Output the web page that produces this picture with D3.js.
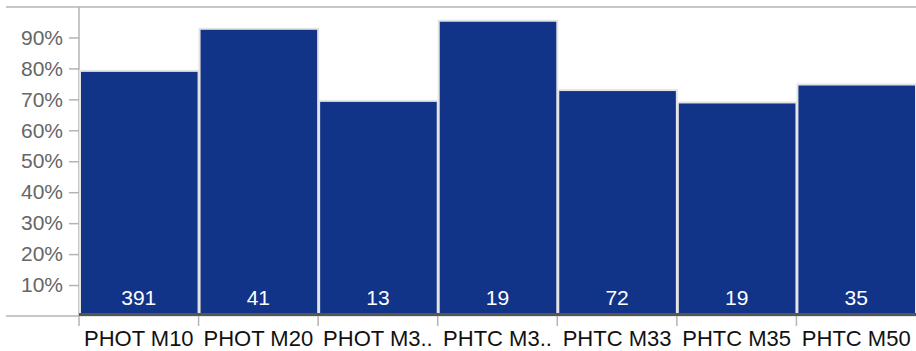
<!DOCTYPE html>
<html>
<head>
<meta charset="utf-8">
<script src="https://cdn.jsdelivr.net/npm/d3@7"></script>
<style>
  html, body { margin: 0; padding: 0; background: #fff; }
  svg { display: block; font-family: "Liberation Sans", Arial, sans-serif; }
</style>
</head>
<body>
<svg id="chart" width="916" height="351"></svg>
<script>
const categories = ["PHOT M10", "PHOT M20", "PHOT M3..", "PHTC M3..", "PHTC M33", "PHTC M35", "PHTC M50"];
const shares = [0.792, 0.928, 0.695, 0.954, 0.730, 0.690, 0.748];
const counts = [391, 41, 13, 19, 72, 19, 35];
const yTicks = [0.1, 0.2, 0.3, 0.4, 0.5, 0.6, 0.7, 0.8, 0.9];

const svg = d3.select("#chart");
const W = 916;
const plotLeft = 79, plotRight = 916, plotTop = 6.5, plotBottom = 316;

const x = d3.scaleBand().domain(categories).range([plotLeft, plotRight]).padding(0);
const y = d3.scaleLinear().domain([0, 1]).range([plotBottom, plotTop]);

// top gray line
svg.append("line").attr("x1", 6).attr("x2", W).attr("y1", 7).attr("y2", 7)
  .attr("stroke", "#b4b4b4").attr("stroke-width", 1.5);
// bottom-left gray line
svg.append("line").attr("x1", 6).attr("x2", plotLeft).attr("y1", 316).attr("y2", 316)
  .attr("stroke", "#b4b4b4").attr("stroke-width", 1.5);

// y axis
const yAxis = svg.append("g").attr("transform", `translate(${plotLeft},0)`)
  .call(d3.axisLeft(y).tickValues(yTicks).tickFormat(d3.format(".0%")).tickSize(10).tickPadding(6));
yAxis.select(".domain").attr("stroke", "#b4b4b4").attr("stroke-width", 1.5)
  .attr("d", `M0,7V${plotBottom}`);
yAxis.selectAll(".tick line").attr("stroke", "#b4b4b4").attr("stroke-width", 1.5);
yAxis.selectAll(".tick text").attr("fill", "#666").style("font-size", "21px")
  .attr("font-family", "Liberation Sans, Arial, sans-serif");

// bars
svg.append("g").selectAll("rect").data(categories).join("rect")
  .attr("x", d => x(d) + 1)
  .attr("width", x.bandwidth() - 1)
  .attr("y", (d, i) => y(shares[i]))
  .attr("height", (d, i) => plotBottom - y(shares[i]))
  .attr("fill", "#123488")
  .attr("stroke", "#e4e4e4")
  .attr("stroke-width", 2);

// count labels
svg.append("g").selectAll("text").data(categories).join("text")
  .attr("x", d => x(d) + x.bandwidth() / 2)
  .attr("y", 305)
  .attr("text-anchor", "middle")
  .attr("fill", "#fff")
  .style("font-size", "21px")
  .text((d, i) => counts[i]);

// x axis
const xAxis = svg.append("g").attr("transform", `translate(0,${plotBottom})`)
  .call(d3.axisBottom(x).tickSize(0).tickPadding(12));
xAxis.select(".domain").remove();
xAxis.selectAll(".tick text").attr("fill", "#111").style("font-size", "22px")
  .attr("font-family", "Liberation Sans, Arial, sans-serif")
  .attr("dy", 0).attr("y", 30);
// boundary ticks
svg.append("g").selectAll("line").data(categories).join("line")
  .attr("x1", d => x(d)).attr("x2", d => x(d))
  .attr("y1", plotBottom).attr("y2", 326)
  .attr("stroke", "#b4b4b4").attr("stroke-width", 1.5);
// dark baseline
svg.append("line").attr("x1", plotLeft).attr("x2", W).attr("y1", 314.5).attr("y2", 314.5)
  .attr("stroke", "#555").attr("stroke-width", 3);
</script>
</body>
</html>
